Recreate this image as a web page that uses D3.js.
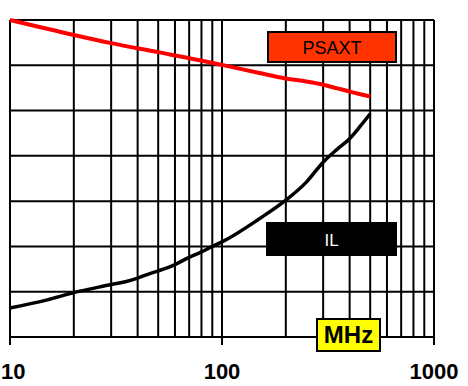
<!DOCTYPE html>
<html>
<head>
<meta charset="utf-8">
<script src="https://cdn.jsdelivr.net/npm/d3@7"></script>
<style>
  body { margin: 0; background: #fff; }
  svg { display: block; font-family: "Liberation Sans", Arial, sans-serif; }
</style>
</head>
<body>
<svg id="chart" width="468" height="386"></svg>
<script>
// frequency axis (MHz, log)
const xMajor = [10, 100, 1000];
const xGrid = [10, 20, 30, 40, 50, 60, 70, 80, 90, 100, 200, 300, 400, 500, 600, 700, 800, 900, 1000];
// vertical divisions (unlabelled in the original)
const yGrid = [0, 10, 20, 30, 40, 50, 60, 70];

// PSAXT curve
const psaxtFreq = [10, 20, 30, 50, 100, 150, 200, 250, 300, 350, 400, 450, 500];
const psaxtVal  = [70, 66.7, 64.9, 62.9, 60.1, 58.3, 57.1, 56.4, 55.7, 54.9, 54.2, 53.6, 53.1];

// IL curve
const ilFreq = [10, 15, 20, 25, 30, 35, 40, 45, 50, 60, 70, 80, 90, 100, 150, 200, 250, 300, 350, 400, 450, 500];
const ilVal  = [6.4, 8.2, 9.8, 10.8, 11.6, 12.2, 13.0, 13.9, 14.6, 16.0, 17.6, 18.8, 20.0, 21.0, 26.1, 30.2, 34.2, 38.6, 41.5, 43.8, 46.6, 49.3];

const svg = d3.select("#chart");
const W = 468;
const plotLeft = 10, plotRight = 434, plotTop = 20, plotBottom = 337;

const x = d3.scaleLog().domain([10, 1000]).range([plotLeft, plotRight]);
const y = d3.scaleLinear().domain([0, 70]).range([plotBottom, plotTop]);

const grid = svg.append("g").attr("stroke", "#000").attr("stroke-width", 2);

grid.selectAll(".hgrid").data(yGrid).enter().append("line")
  .attr("x1", plotLeft).attr("x2", plotRight)
  .attr("y1", d => y(d)).attr("y2", d => y(d));

grid.selectAll(".vgrid").data(xGrid).enter().append("line")
  .attr("x1", d => x(d)).attr("x2", d => x(d))
  .attr("y1", plotTop)
  .attr("y2", d => xMajor.includes(d) ? plotBottom + 8 : plotBottom);

// x labels (kept inside the picture at the edges)
svg.selectAll(".xlab").data(xMajor).enter().append("text")
  .attr("y", 379)
  .attr("text-anchor", "middle")
  .style("font-size", "22px")
  .style("font-weight", "bold")
  .text(d => d)
  .attr("x", function(d) {
    const hw = this.getComputedTextLength() / 2 + 1;
    return Math.min(Math.max(x(d), hw), W - hw);
  });

const line = d3.line().x(d => x(d[0])).y(d => y(d[1])).curve(d3.curveMonotoneX);

svg.append("path")
  .datum(d3.zip(psaxtFreq, psaxtVal))
  .attr("fill", "none").attr("stroke", "#ff0000").attr("stroke-width", 4)
  .attr("d", line);

svg.append("path")
  .datum(d3.zip(ilFreq, ilVal))
  .attr("fill", "none").attr("stroke", "#000").attr("stroke-width", 3.5)
  .attr("d", line);

// labels
function label(x0, y0, w, h, fill, textColor, txt, size, weight, base) {
  svg.append("rect")
    .attr("x", x0).attr("y", y0).attr("width", w).attr("height", h)
    .attr("fill", fill).attr("stroke", "#000").attr("stroke-width", 2);
  svg.append("text")
    .attr("x", x0 + w / 2).attr("y", base)
    .attr("text-anchor", "middle")
    .attr("fill", textColor)
    .style("font-size", size + "px")
    .style("font-weight", weight)
    .text(txt);
}

label(268, 32, 128, 30, "#ff3300", "#000", "PSAXT", 18, "normal", 54);
label(267, 223, 129, 32, "#000", "#fff", "IL", 17, "normal", 246);
label(317, 319, 63, 32, "#ffff00", "#000", "MHz", 24, "bold", 343);
</script>
</body>
</html>
